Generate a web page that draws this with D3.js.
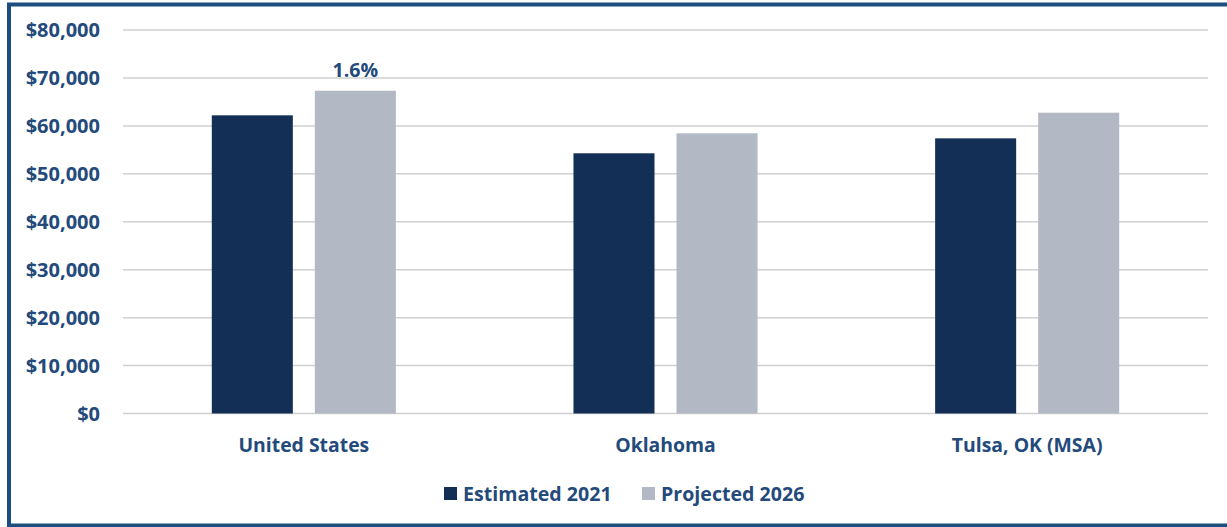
<!DOCTYPE html>
<html>
<head>
<meta charset="utf-8">
<script src="https://cdn.jsdelivr.net/npm/d3@7"></script>
<style>
  html, body { margin: 0; padding: 0; background: #fff; }
  svg { display: block; }
  text { font-family: "Open Sans", "Noto Sans", sans-serif; font-weight: bold; fill: #234a7a; }
</style>
</head>
<body>
<svg id="chart" width="1227" height="527"></svg>
<script>
const categories = ["United States", "Oklahoma", "Tulsa, OK (MSA)"];
const seriesNames = ["Estimated 2021", "Projected 2026"];
const estimated2021 = [62200, 54280, 57400];
const projected2026 = [67330, 58450, 62750];
const yTicks = [0, 10000, 20000, 30000, 40000, 50000, 60000, 70000, 80000];
const annotations = [{ category: "United States", series: "Projected 2026", label: "1.6%" }];
const colors = ["#132f55", "#b2b8c4"];

(function () {
const svg = d3.select("#chart");
const W = 1227, H = 527;

// border
svg.append("rect")
  .attr("x", 9).attr("y", 4.5)
  .attr("width", W + 20).attr("height", 521)
  .attr("fill", "none").attr("stroke", "#1b4d7e").attr("stroke-width", 4);

const pLeft = 123, pRight = 1208, pTop = 30, pBottom = 413.5;

const y = d3.scaleLinear().domain([0, 80000]).range([pBottom, pTop]);
const x0 = d3.scaleBand().domain(categories).range([pLeft, pRight]).padding(0);
const gw = x0.bandwidth();
const x1 = d3.scaleBand().domain(seriesNames)
  .range([88.8, gw - 88.8]).paddingInner(0.2136).paddingOuter(0);

// gridlines
svg.append("g").selectAll("line").data(yTicks).join("line")
  .attr("x1", pLeft).attr("x2", pRight)
  .attr("y1", d => y(d)).attr("y2", d => y(d))
  .attr("stroke", "#d0d0d0").attr("stroke-width", 1.5);

// y axis labels
const fmt = d3.format("$,");
svg.append("g").selectAll("text").data(yTicks).join("text")
  .attr("x", 100).attr("y", d => y(d))
  .attr("dy", "0.35em")
  .attr("text-anchor", "end")
  .style("font-size", "20px")
  .text(d => fmt(d));

const data = categories.map((c, i) => ({
  category: c,
  values: [
    { series: seriesNames[0], value: estimated2021[i] },
    { series: seriesNames[1], value: projected2026[i] }
  ]
}));

const groups = svg.append("g").selectAll("g").data(data).join("g")
  .attr("transform", d => `translate(${x0(d.category)},0)`);

groups.selectAll("rect").data(d => d.values).join("rect")
  .attr("x", d => x1(d.series))
  .attr("width", x1.bandwidth())
  .attr("y", d => y(d.value))
  .attr("height", d => y(0) - y(d.value))
  .attr("fill", (d, i) => colors[i]);

// annotations
annotations.forEach(a => {
  const idx = categories.indexOf(a.category);
  const sIdx = seriesNames.indexOf(a.series);
  const v = sIdx === 0 ? estimated2021[idx] : projected2026[idx];
  svg.append("text")
    .attr("x", x0(a.category) + x1(a.series) + x1.bandwidth() / 2)
    .attr("y", y(v) - 14)
    .attr("text-anchor", "middle")
    .style("font-size", "19.6px")
    .text(a.label);
});

// category labels
svg.append("g").selectAll("text").data(categories).join("text")
  .attr("x", d => x0(d) + gw / 2)
  .attr("y", 452)
  .attr("text-anchor", "middle")
  .style("font-size", "19.4px")
  .text(d => d);

// legend
const legendX = [444, 642];
const lg = svg.append("g").selectAll("g").data(seriesNames).join("g")
  .attr("transform", (d, i) => `translate(${legendX[i]},487)`);
lg.append("rect").attr("width", 13).attr("height", 13).attr("fill", (d, i) => colors[i]);
lg.append("text").attr("x", 19).attr("y", 13.5)
  .style("font-size", "19.6px")
  .text(d => d);
})();
</script>
</body>
</html>
